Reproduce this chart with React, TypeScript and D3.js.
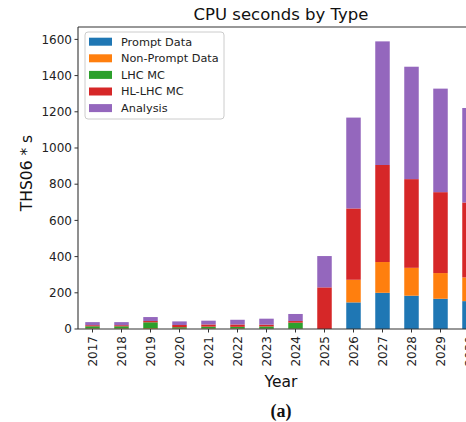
import React from "react";
import * as d3 from "d3";

const years = ["2017", "2018", "2019", "2020", "2021", "2022", "2023", "2024", "2025", "2026", "2027", "2028", "2029", "2030"];
const promptData = [0, 0, 0, 0, 0, 0, 0, 0, 0, 147, 200, 184, 167, 154];
const nonPromptData = [3, 3, 4, 3, 3, 3, 2, 2, 0, 125, 170, 154, 142, 131];
const lhcMC = [12, 12, 33, 7, 10, 9, 12, 33, 0, 0, 0, 0, 0, 0];
const hlLhcMC = [6, 6, 7, 12, 12, 13, 10, 9, 230, 394, 536, 490, 447, 414];
const analysis = [17, 17, 22, 20, 21, 26, 33, 39, 173, 502, 683, 621, 572, 522];

const seriesNames = ["Prompt Data", "Non-Prompt Data", "LHC MC", "HL-LHC MC", "Analysis"];
const colors = ["#1f77b4", "#ff7f0e", "#2ca02c", "#d62728", "#9467bd"];
const yTicks = [0, 200, 400, 600, 800, 1000, 1200, 1400, 1600];

const font = "DejaVu Sans, sans-serif";

const App = () => {
  const left = 78;
  const right = 484;
  const top = 27;
  const bottom = 329;

  const rows = years.map((y, i) => ({
    year: y,
    "Prompt Data": promptData[i],
    "Non-Prompt Data": nonPromptData[i],
    "LHC MC": lhcMC[i],
    "HL-LHC MC": hlLhcMC[i],
    Analysis: analysis[i],
  }));

  const stacked = d3.stack<any>().keys(seriesNames)(rows);
  const maxTotal = d3.max(rows, (r) => seriesNames.reduce((s, k) => s + r[k], 0)) as number;

  const x = d3.scaleBand().domain(years).range([left, right]).paddingInner(0.5).paddingOuter(0.25);
  const y = d3.scaleLinear().domain([0, maxTotal * 1.05]).range([bottom, top]);
  const color = d3.scaleOrdinal<string>().domain(seriesNames).range(colors);

  return (
    <svg
      width={466}
      height={422}
      style={{ position: "absolute", left: 0, top: 0, background: "white" }}
      fontFamily={font}
    >
      <text x={(left + right) / 2} y={20} textAnchor="middle" fontSize={16.5} fill="#111">
        CPU seconds by Type
      </text>

      {stacked.map((layer) => (
        <g key={layer.key} fill={color(layer.key)}>
          {layer.map((d, i) => (
            <rect
              key={i}
              x={x(d.data.year)}
              y={y(d[1])}
              width={x.bandwidth()}
              height={Math.max(0, y(d[0]) - y(d[1]))}
            />
          ))}
        </g>
      ))}

      {/* spines */}
      <g stroke="#333" strokeWidth={1.1} fill="none">
        <line x1={left} x2={left} y1={top} y2={bottom} />
        <line x1={left} x2={right} y1={top} y2={top} />
        <line x1={left} x2={right} y1={bottom} y2={bottom} />
        <line x1={right} x2={right} y1={top} y2={bottom} />
      </g>

      {/* y axis */}
      {yTicks.map((t) => (
        <g key={t} transform={`translate(0,${y(t)})`}>
          <line x1={left - 3.5} x2={left} stroke="#333" />
          <text x={left - 6} dy="0.35em" textAnchor="end" fontSize={12} fill="#222">
            {t}
          </text>
        </g>
      ))}

      {/* x axis */}
      {years.map((yr) => {
        const cx = (x(yr) as number) + x.bandwidth() / 2;
        return (
          <g key={yr}>
            <line x1={cx} x2={cx} y1={bottom} y2={bottom + 3.5} stroke="#333" />
            <text
              transform={`translate(${cx},${bottom + 7}) rotate(-90)`}
              dy="0.35em"
              textAnchor="end"
              fontSize={12}
              fill="#222"
            >
              {yr}
            </text>
          </g>
        );
      })}

      <text x={(left + right) / 2} y={387} textAnchor="middle" fontSize={15.5} fill="#111">
        Year
      </text>
      <text
        transform={`translate(32,${(top + bottom) / 2 - 5}) rotate(-90)`}
        textAnchor="middle"
        fontSize={15.5}
        fill="#111"
      >
        THS06 * s
      </text>

      {/* legend */}
      <g>
        <rect x={85} y={32} width={139} height={87} rx={3} fill="white" fillOpacity={0.8} stroke="#ccc" />
        {seriesNames.map((name, i) => {
          const cy = 41.7 + i * 16.6;
          return (
            <g key={name}>
              <rect x={89} y={cy - 4} width={23} height={8} fill={color(name)} />
              <text x={121} y={cy} dy="0.35em" fontSize={11.3} fill="#222">
                {name}
              </text>
            </g>
          );
        })}
      </g>

      <text
        x={(left + right) / 2}
        y={417}
        textAnchor="middle"
        fontSize={18}
        fontWeight="bold"
        fontFamily="Liberation Serif, serif"
        fill="#111"
      >
        (a)
      </text>
    </svg>
  );
};

export default App;
